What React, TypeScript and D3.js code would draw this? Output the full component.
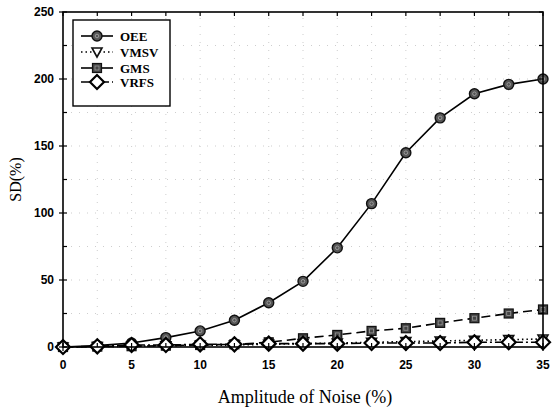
import React from "react";
import * as d3 from "d3";

const noise = [0, 2.5, 5, 7.5, 10, 12.5, 15, 17.5, 20, 22.5, 25, 27.5, 30, 32.5, 35];
const oee = [0, 1, 3, 7, 12, 20, 33, 49, 74, 107, 145, 171, 189, 196, 200];
const vmsv = [0, 0.3, 0.6, 0.9, 1.2, 1.5, 2, 2.5, 3, 3.5, 4, 4.5, 5, 5.5, 6];
const gms = [0, 0.3, 0.6, 1, 1.5, 2, 3.5, 6.5, 9, 12, 14, 18, 21.5, 25, 28];
const vrfs = [0, 0.5, 1.5, 1.5, 2, 2, 2.5, 2.5, 2.5, 3, 3, 3, 3.5, 3.5, 3.5];

const xTicks = [0, 5, 10, 15, 20, 25, 30, 35];
const yTicks = [0, 50, 100, 150, 200, 250];
const legendNames = ["OEE", "VMSV", "GMS", "VRFS"];

const W = 556;
const H = 411;
const m = { left: 63, right: 13, top: 12, bottom: 64 };
const serif = "'Liberation Serif', 'Times New Roman', serif";

export default function App() {
  const x = d3.scaleLinear().domain([0, 35]).range([m.left, W - m.right]);
  const y = d3.scaleLinear().domain([0, 250]).range([H - m.bottom, m.top]);
  const line = (vals: number[]) =>
    d3.line<number>().x((_, i) => x(noise[i])).y((v) => y(v))(vals) || "";

  const minorX = d3.range(0, 35.01, 2.5);
  const minorY = d3.range(0, 250.01, 25);

  const circle = (cx: number, cy: number, k: string) => (
    <g key={k}>
      <circle cx={cx} cy={cy} r={5} fill="#555" stroke="#111" strokeWidth={1.4} />
      <circle cx={cx} cy={cy} r={1.8} fill="none" stroke="#aaa" strokeWidth={0.8} />
    </g>
  );
  const square = (cx: number, cy: number, k: string) => (
    <g key={k}>
      <rect x={cx - 4.5} y={cy - 4.5} width={9} height={9} fill="#444" stroke="#111" strokeWidth={1.2} />
      <rect x={cx - 2} y={cy - 2} width={4} height={4} fill="none" stroke="#999" strokeWidth={0.8} />
    </g>
  );
  const tri = (cx: number, cy: number, k: string) => (
    <path key={k} d={`M${cx - 5},${cy - 4}L${cx + 5},${cy - 4}L${cx},${cy + 5}Z`} fill="#fff" stroke="#111" strokeWidth={1.6} />
  );
  const diamond = (cx: number, cy: number, k: string) => (
    <path key={k} d={`M${cx},${cy - 7}L${cx + 7},${cy}L${cx},${cy + 7}L${cx - 7},${cy}Z`} fill="#fff" stroke="#000" strokeWidth={2.2} />
  );

  const series = [
    { vals: oee, dash: "none", mk: circle },
    { vals: vmsv, dash: "1.5,3", mk: tri },
    { vals: gms, dash: "9,5", mk: square },
    { vals: vrfs, dash: "10,3,2,3", mk: diamond },
  ];

  const legX = 73, legY = 20;
  const rowY = [36, 52, 68, 82];

  return (
    <svg width={W} height={H} style={{ position: "absolute", left: 0, top: 0, background: "#fff" }}>
      {/* dotted grid */}
      <g stroke="#999" strokeWidth={0.8} strokeDasharray="1,7" opacity={0.6}>
        {minorX.slice(1, -1).map((t) => (
          <line key={"gx" + t} x1={x(t)} x2={x(t)} y1={y(0)} y2={y(250)} />
        ))}
        {minorY.slice(1, -1).map((t) => (
          <line key={"gy" + t} x1={x(0)} x2={x(35)} y1={y(t)} y2={y(t)} />
        ))}
      </g>

      {/* series */}
      {series.map((s, si) => (
        <path key={"s" + si} d={line(s.vals)} fill="none" stroke="#000" strokeWidth={1.6} strokeDasharray={s.dash} />
      ))}
      {series.map((s, si) => (
        <g key={"m" + si}>{s.vals.map((v, i) => s.mk(x(noise[i]), y(v), `${si}-${i}`))}</g>
      ))}

      {/* frame */}
      <rect x={x(0)} y={y(250)} width={x(35) - x(0)} height={y(0) - y(250)} fill="none" stroke="#000" strokeWidth={1.6} />

      {/* ticks */}
      <g stroke="#000" strokeWidth={1.2}>
        {minorX.map((t) => (
          <g key={"tx" + t}>
            <line x1={x(t)} x2={x(t)} y1={y(0)} y2={y(0) - 4} />
            <line x1={x(t)} x2={x(t)} y1={y(250)} y2={y(250) + 4} />
          </g>
        ))}
        {minorY.map((t) => (
          <g key={"ty" + t}>
            <line x1={x(0)} x2={x(0) + 4} y1={y(t)} y2={y(t)} />
            <line x1={x(35)} x2={x(35) - 4} y1={y(t)} y2={y(t)} />
          </g>
        ))}
        {xTicks.map((t) => (
          <line key={"ox" + t} x1={x(t)} x2={x(t)} y1={y(0)} y2={y(0) + 4} />
        ))}
        {yTicks.map((t) => (
          <line key={"oy" + t} x1={x(0)} x2={x(0) - 4} y1={y(t)} y2={y(t)} />
        ))}
      </g>

      {/* tick labels */}
      <g fontFamily="Arial, 'Liberation Sans', sans-serif" fontSize={12} fontWeight="bold" fill="#000">
        {xTicks.map((t) => (
          <text key={"lx" + t} x={x(t)} y={y(0) + 22} textAnchor="middle">{t}</text>
        ))}
        {yTicks.map((t) => (
          <text key={"ly" + t} x={x(0) - 9} y={y(t) + 4} textAnchor="end">{t}</text>
        ))}
      </g>

      {/* axis titles */}
      <text x={(x(0) + x(35)) / 2 + 2} y={403} textAnchor="middle" fontFamily={serif} fontSize={18}>
        Amplitude of Noise (%)
      </text>
      <text transform={`translate(21,${(y(0) + y(250)) / 2}) rotate(-90)`} textAnchor="middle" fontFamily={serif} fontSize={16}>
        SD(%)
      </text>

      {/* legend */}
      <rect x={legX} y={legY} width={97} height={86} fill="#fff" stroke="#000" strokeWidth={1.4} />
      {series.map((s, i) => (
        <g key={"lg" + i}>
          <line x1={81} x2={113} y1={rowY[i]} y2={rowY[i]} stroke="#000" strokeWidth={1.6} strokeDasharray={i === 2 ? "none" : s.dash} />
          {s.mk(97, rowY[i], "lgm" + i)}
          <text x={120} y={rowY[i] + 4.5} fontFamily={serif} fontSize={13} fontWeight="bold">
            {legendNames[i]}
          </text>
        </g>
      ))}
    </svg>
  );
}
